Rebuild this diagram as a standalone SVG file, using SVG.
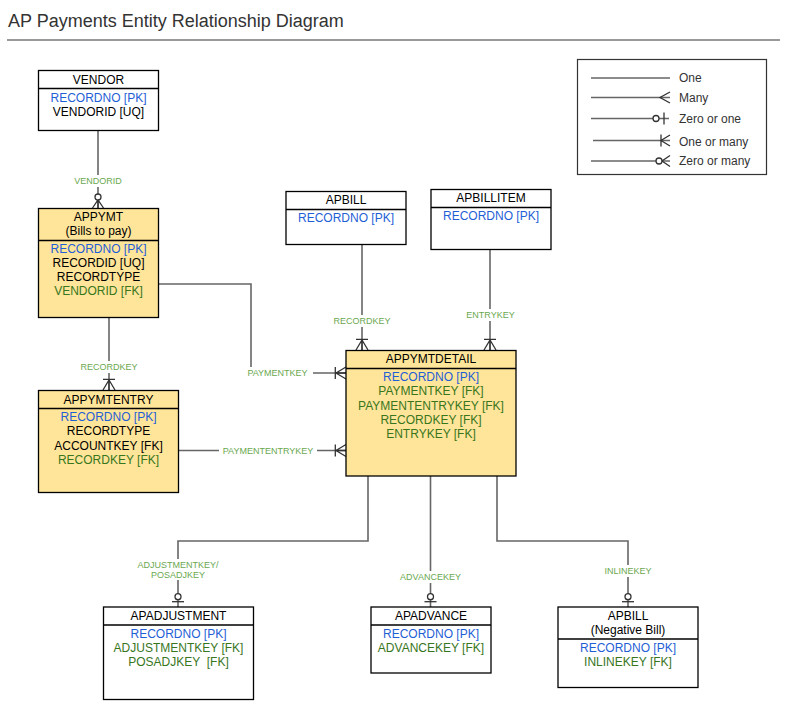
<svg xmlns="http://www.w3.org/2000/svg" width="804" height="710" viewBox="0 0 804 710">
<style>
text{font-family:"Liberation Sans",Arial,sans-serif}
.title{font-size:18px;fill:#333}
.box{fill:#fff;stroke:#000;stroke-width:1.3}
.ybox{fill:#ffe599;stroke:#000;stroke-width:1.3}
.div{stroke:#000;stroke-width:1.3}
.h{font-size:12px;fill:#000;text-anchor:middle}
.pk{font-size:12px;fill:#1f5fd6;text-anchor:middle}
.fk{font-size:12px;fill:#38761d;text-anchor:middle}
.f{font-size:12px;fill:#000;text-anchor:middle}
.ln{fill:none;stroke:#666;stroke-width:1.6}
.lbl{font-size:9px;fill:#6aa84f;text-anchor:middle}
.bg{fill:#fff}
.leg{font-size:12px;fill:#333}
</style>
<defs>
<g id="oneMany"><path d="M-6,-10.7 H6 M-6,0 L0,-10 L6,0 M0,0 V-11" fill="none" stroke="#333" stroke-width="1.3"/></g>
<g id="zeroMany"><path d="M-5.5,0 L0,-8 L5.5,0 M0,0 V-8" fill="none" stroke="#333" stroke-width="1.3"/><circle cx="0" cy="-11" r="3" fill="#fff" stroke="#333" stroke-width="1.3"/></g>
<g id="zeroOne"><path d="M-6,-5.3 H6" fill="none" stroke="#333" stroke-width="1.3"/><circle cx="0" cy="-10.3" r="3" fill="#fff" stroke="#333" stroke-width="1.3"/></g>
</defs>

<text class="title" x="8" y="27">AP Payments Entity Relationship Diagram</text>
<line x1="7" y1="40" x2="780" y2="40" stroke="#999" stroke-width="2"/>

<g id="connectors">
<path class="ln" d="M98,130 V208"/>
<path class="ln" d="M109,317 V390"/>
<path class="ln" d="M158,284 H251 V373 H346"/>
<path class="ln" d="M178,450.5 H346"/>
<path class="ln" d="M362,244 V350"/>
<path class="ln" d="M490,249 V350"/>
<path class="ln" d="M368,476 V541 H178 V607"/>
<path class="ln" d="M430.5,476 V607"/>
<path class="ln" d="M497,476 V541 H628 V607"/>
<use href="#zeroMany" transform="translate(98,208)"/>
<use href="#oneMany" transform="translate(109,390)"/>
<use href="#oneMany" transform="translate(346,373) rotate(-90)"/>
<use href="#oneMany" transform="translate(346,450.5) rotate(-90)"/>
<use href="#oneMany" transform="translate(362,350)"/>
<use href="#oneMany" transform="translate(490,350)"/>
<use href="#zeroOne" transform="translate(178,607)"/>
<use href="#zeroOne" transform="translate(430.5,607)"/>
<use href="#zeroOne" transform="translate(628,607)"/>
<rect class="bg" x="69" y="175" width="58" height="12"/>
<text class="lbl" x="98" y="184.2">VENDORID</text>
<rect class="bg" x="79" y="361" width="60" height="12"/>
<text class="lbl" x="109" y="370.2">RECORDKEY</text>
<rect class="bg" x="245" y="367" width="68" height="12"/>
<text class="lbl" x="277.5" y="376.2">PAYMENTKEY</text>
<rect class="bg" x="219" y="444.5" width="98" height="12"/>
<text class="lbl" x="268" y="453.7">PAYMENTENTRYKEY</text>
<rect class="bg" x="332" y="315" width="60" height="12"/>
<text class="lbl" x="362" y="324.2">RECORDKEY</text>
<rect class="bg" x="465" y="309" width="51" height="12"/>
<text class="lbl" x="490.5" y="318.2">ENTRYKEY</text>
<rect class="bg" x="136" y="559" width="84" height="21"/>
<text class="lbl" x="178" y="568.2">ADJUSTMENTKEY/</text>
<text class="lbl" x="178" y="577.5">POSADJKEY</text>
<rect class="bg" x="399" y="571" width="63" height="12"/>
<text class="lbl" x="430.5" y="579.9">ADVANCEKEY</text>
<rect class="bg" x="603" y="565" width="50" height="12"/>
<text class="lbl" x="628" y="574.2">INLINEKEY</text>
</g>

<g id="vendor">
<rect class="box" x="38.5" y="70.5" width="120" height="60"/>
<line class="div" x1="38.5" y1="88.5" x2="158.5" y2="88.5"/>
<text class="h" x="98.5" y="83.5">VENDOR</text>
<text class="pk" x="98.5" y="101.5">RECORDNO [PK]</text>
<text class="f" x="98.5" y="115.5">VENDORID [UQ]</text>
</g>

<g id="appymt">
<rect class="ybox" x="38.5" y="208.5" width="120" height="109"/>
<line class="div" x1="38.5" y1="240.5" x2="158.5" y2="240.5"/>
<text class="h" x="98.5" y="221">APPYMT</text>
<text class="h" x="98.5" y="235">(Bills to pay)</text>
<text class="pk" x="98.5" y="252.5">RECORDNO [PK]</text>
<text class="f" x="98.5" y="266.5">RECORDID [UQ]</text>
<text class="f" x="98.5" y="280.5">RECORDTYPE</text>
<text class="fk" x="98.5" y="294.5">VENDORID [FK]</text>
</g>

<g id="appymtentry">
<rect class="ybox" x="38.5" y="390.5" width="140" height="102"/>
<line class="div" x1="38.5" y1="408.5" x2="178.5" y2="408.5"/>
<text class="h" x="108.5" y="403.5">APPYMTENTRY</text>
<text class="pk" x="108.5" y="421">RECORDNO [PK]</text>
<text class="f" x="108.5" y="435">RECORDTYPE</text>
<text class="f" x="108.5" y="449.5">ACCOUNTKEY [FK]</text>
<text class="fk" x="108.5" y="463.5">RECORDKEY [FK]</text>
</g>

<g id="apbill">
<rect class="box" x="286" y="191.5" width="120" height="53"/>
<line class="div" x1="286" y1="209.5" x2="406" y2="209.5"/>
<text class="h" x="346" y="204">APBILL</text>
<text class="pk" x="346" y="222">RECORDNO [PK]</text>
</g>

<g id="apbillitem">
<rect class="box" x="431" y="189.5" width="120" height="60"/>
<line class="div" x1="431" y1="207.5" x2="551" y2="207.5"/>
<text class="h" x="491" y="202">APBILLITEM</text>
<text class="pk" x="491" y="220">RECORDNO [PK]</text>
</g>

<g id="appymtdetail">
<rect class="ybox" x="346" y="350.5" width="170" height="125.5"/>
<line class="div" x1="346" y1="368.5" x2="516" y2="368.5"/>
<text class="h" x="431" y="363">APPYMTDETAIL</text>
<text class="pk" x="431" y="381">RECORDNO [PK]</text>
<text class="fk" x="431" y="395">PAYMENTKEY [FK]</text>
<text class="fk" x="431" y="409.5">PAYMENTENTRYKEY [FK]</text>
<text class="fk" x="431" y="423.5">RECORDKEY [FK]</text>
<text class="fk" x="431" y="437.5">ENTRYKEY [FK]</text>
</g>

<g id="apadjustment">
<rect class="box" x="103.5" y="607" width="150" height="92.5"/>
<line class="div" x1="103.5" y1="625" x2="253.5" y2="625"/>
<text class="h" x="178.5" y="620">APADJUSTMENT</text>
<text class="pk" x="178.5" y="637.5">RECORDNO [PK]</text>
<text class="fk" x="178.5" y="652">ADJUSTMENTKEY [FK]</text>
<text class="fk" x="178.5" y="666" xml:space="preserve">POSADJKEY  [FK]</text>
</g>

<g id="apadvance">
<rect class="box" x="371" y="607" width="120" height="66"/>
<line class="div" x1="371" y1="625" x2="491" y2="625"/>
<text class="h" x="431" y="620">APADVANCE</text>
<text class="pk" x="431" y="637.5">RECORDNO [PK]</text>
<text class="fk" x="431" y="652">ADVANCEKEY [FK]</text>
</g>

<g id="apbill-negative">
<rect class="box" x="558" y="607" width="140" height="80.5"/>
<line class="div" x1="558" y1="639" x2="698" y2="639"/>
<text class="h" x="628" y="620">APBILL</text>
<text class="h" x="628" y="634">(Negative Bill)</text>
<text class="pk" x="628" y="652">RECORDNO [PK]</text>
<text class="fk" x="628" y="666">INLINEKEY [FK]</text>
</g>

<g id="legend">
<rect x="577.5" y="59.5" width="189" height="115" fill="#fff" stroke="#333" stroke-width="1.2"/>
<path class="ln" d="M591,78 H670"/>
<text class="leg" x="679" y="82">One</text>
<path class="ln" d="M591,97.5 H670"/>
<path d="M670,92 L660,97.5 L670,103" fill="none" stroke="#333" stroke-width="1.3"/>
<text class="leg" x="679" y="102">Many</text>
<path class="ln" d="M591,118.5 H669"/>
<path d="M664,112.5 V124.5" fill="none" stroke="#333" stroke-width="1.3"/>
<circle cx="656" cy="118.5" r="3" fill="#fff" stroke="#333" stroke-width="1.3"/>
<text class="leg" x="679" y="123">Zero or one</text>
<path class="ln" d="M593,140.5 H670"/>
<path d="M661,134.5 V146.5 M670,135 L661,140.5 L670,146" fill="none" stroke="#333" stroke-width="1.3"/>
<text class="leg" x="679" y="145.5">One or many</text>
<path class="ln" d="M591,161 H670"/>
<path d="M670,155.5 L662,161 L670,166.5" fill="none" stroke="#333" stroke-width="1.3"/>
<circle cx="659" cy="161" r="3" fill="#fff" stroke="#333" stroke-width="1.3"/>
<text class="leg" x="679" y="165">Zero or many</text>
</g>
</svg>
